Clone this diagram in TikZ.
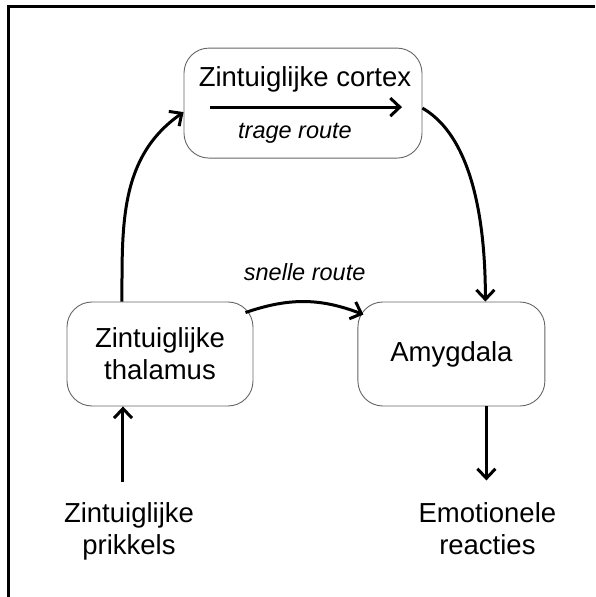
\documentclass[tikz,border=0pt]{standalone}
\usepackage{fontspec}
\setmainfont{Liberation Sans}
\usepackage{tikz}
\usetikzlibrary{arrows.meta, positioning}
\newcommand{\bigtxt}{\fontsize{27.5pt}{32pt}\selectfont}
\newcommand{\routetxt}{\fontsize{23.5pt}{28pt}\selectfont\itshape}

\begin{document}
\begin{tikzpicture}[
    font=\bigtxt,
    >={Straight Barb[length=9.5pt, width=18pt]},
    conn/.style={->, line width=3pt},
    block/.style={rectangle, draw=black!60, line width=0.9pt, rounded corners=25pt, minimum width=#1, minimum height=104pt, align=center},
    route/.style={font=\routetxt, inner sep=0pt},
    ext/.style={align=center, inner sep=0pt},
]
    \useasboundingbox (-160pt,-243pt) rectangle (435pt,354pt);

    % Frame
    \draw[line width=3pt] (-151pt,-243pt) -- (-151pt,347pt) -- (435pt,347pt);

    % Thalamus
    \node[block=186pt] (thal) at (0,0) {Zintuiglijke\\thalamus};

    % Amygdala
    \node[block=187pt, right=104pt of thal] (amyg) {Amygdala};

    % Cortex
    \node[block=238pt, minimum height=110pt, above=143pt of thal, xshift=143pt] (cortex) {};
    \node[anchor=base] (ctitle) at ([xshift=2pt, yshift=17pt]cortex.center) {Zintuiglijke cortex};
    \node[route, anchor=base] (trage) at ([xshift=-8pt, yshift=-35pt]cortex.center) {trage route};

    % Input and output
    \node[ext, below=96pt of thal, xshift=-31pt] (prik) {Zintuiglijke\\prikkels};
    \node[ext, below=96pt of amyg, xshift=36pt] (emot) {Emotionele\\reacties};

    % Arrows
    \draw[conn, shorten <=20pt] ([xshift=-6pt]prik.north) -- ([xshift=-37pt]thal.south);
    \draw[conn, shorten >=22pt] ([xshift=35pt]amyg.south) -- ([xshift=-1pt]emot.north);
    \draw[conn] ([xshift=-38pt]thal.north) to[out=90, in=215] ([yshift=-9pt]cortex.west);
    \draw[conn] ([yshift=-5pt]cortex.east) to[out=-30, in=90, looseness=0.8] ([xshift=34pt]amyg.north);
    \draw[conn] ([shift={(-8pt,-11pt)}]thal.north east) to[bend left=20] node[route, midway, above=19pt] (snelle) {snelle route} ([shift={(6pt,-13pt)}]amyg.north west);
    \draw[conn] ([xshift=-93pt, yshift=-4pt]cortex.center) -- ([xshift=99pt, yshift=-4pt]cortex.center);

\end{tikzpicture}
\end{document}
